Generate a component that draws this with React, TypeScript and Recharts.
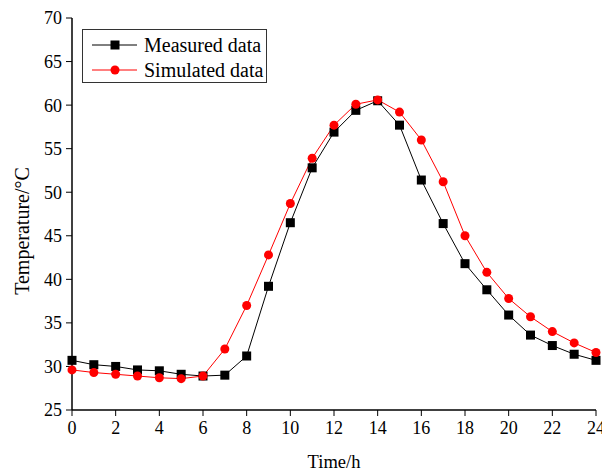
import { LineChart, Line, XAxis, YAxis } from "recharts";

const hours = [0, 1, 2, 3, 4, 5, 6, 7, 8, 9, 10, 11, 12, 13, 14, 15, 16, 17, 18, 19, 20, 21, 22, 23, 24];
const measured = [30.7, 30.2, 30.0, 29.6, 29.5, 29.1, 28.9, 29.0, 31.2, 39.2, 46.5, 52.8, 56.9, 59.4, 60.5, 57.7, 51.4, 46.4, 41.8, 38.8, 35.9, 33.6, 32.4, 31.4, 30.7];
const simulated = [29.6, 29.3, 29.1, 28.9, 28.7, 28.6, 28.9, 32.0, 37.0, 42.8, 48.7, 53.9, 57.7, 60.1, 60.6, 59.2, 56.0, 51.2, 45.0, 40.8, 37.8, 35.7, 34.0, 32.7, 31.6];

const xTicks = [0, 2, 4, 6, 8, 10, 12, 14, 16, 18, 20, 22, 24];
const yTicks = [25, 30, 35, 40, 45, 50, 55, 60, 65, 70];
const xMinor = hours;
const yMinor = [25, 27.5, 30, 32.5, 35, 37.5, 40, 42.5, 45, 47.5, 50, 52.5, 55, 57.5, 60, 62.5, 65, 67.5, 70];

const data = hours.map((h, i) => ({ h, measured: measured[i], simulated: simulated[i] }));

const font = "'Liberation Serif', 'Times New Roman', serif";
const tickStyle = { fontFamily: font, fontSize: 18, fill: "#000" };

const Square = (props: any) => {
  const { cx, cy, index } = props;
  if (cx == null || cy == null) return <g key={index} />;
  return <rect key={index} x={cx - 4.5} y={cy - 4.5} width={9} height={9} fill="#000" />;
};

const LegendBox = () => (
  <svg width={186} height={55} style={{ display: "block" }}>
    <rect x={0.5} y={0.5} width={184} height={53} fill="#fff" stroke="#333" />
    <line x1={10} x2={55} y1={16} y2={16} stroke="#000" />
    <rect x={28.5} y={11.5} width={9} height={9} fill="#000" />
    <text x={62} y={22.5} style={{ fontFamily: font, fontSize: 20 }} fill="#000">Measured data</text>
    <line x1={10} x2={55} y1={41} y2={41} stroke="#ff0000" />
    <circle cx={33} cy={41} r={4.5} fill="#ff0000" />
    <text x={62} y={47.5} style={{ fontFamily: font, fontSize: 20 }} fill="#000">Simulated data</text>
  </svg>
);

export default function App() {
  return (
    <div style={{ position: "absolute", left: 0, top: 0, width: 602, height: 472, background: "#fff" }}>
      <LineChart width={602} height={472} data={data} margin={{ top: 18, right: 6, left: 0, bottom: 0 }}>
        <XAxis
          xAxisId="minor"
          dataKey="h"
          type="number"
          domain={[0, 24]}
          ticks={xMinor}
          height={0}
          tickSize={3}
          tickFormatter={() => ""}
          axisLine={false}
          tickLine={{ stroke: "#000" }}
        />
        <XAxis
          xAxisId="main"
          dataKey="h"
          type="number"
          domain={[0, 24]}
          ticks={xTicks}
          height={62}
          tickSize={6}
          tickMargin={5}
          tick={tickStyle}
          axisLine={{ stroke: "#000", strokeWidth: 1.5 }}
          tickLine={{ stroke: "#000" }}
          interval={0}
          label={{ value: "Time/h", position: "insideBottom", offset: 4, style: { fontFamily: font, fontSize: 18.5, fill: "#000" } }}
        />
        <XAxis
          xAxisId="top"
          orientation="top"
          dataKey="h"
          type="number"
          domain={[0, 24]}
          height={0}
          tick={false}
          tickLine={false}
          axisLine={{ stroke: "#000", strokeWidth: 1.5 }}
        />
        <YAxis
          yAxisId="minor"
          type="number"
          domain={[25, 70]}
          ticks={yMinor}
          width={0}
          tickSize={3}
          tickFormatter={() => ""}
          axisLine={false}
          tickLine={{ stroke: "#000" }}
        />
        <YAxis
          yAxisId="main"
          type="number"
          domain={[25, 70]}
          ticks={yTicks}
          width={72}
          tickSize={6}
          tickMargin={4}
          tick={tickStyle}
          interval={0}
          axisLine={{ stroke: "#000", strokeWidth: 1.5 }}
          tickLine={{ stroke: "#000" }}
          label={{ value: "Temperature/°C", angle: -90, position: "insideLeft", offset: 22, dy: 17, style: { fontFamily: font, fontSize: 20, fill: "#000", textAnchor: "middle" } }}
        />
        <YAxis
          yAxisId="right"
          orientation="right"
          type="number"
          domain={[25, 70]}
          width={0}
          tick={false}
          tickLine={false}
          axisLine={{ stroke: "#000", strokeWidth: 1.5 }}
        />
        <Line
          xAxisId="main"
          yAxisId="main"
          dataKey="measured"
          stroke="#000"
          strokeWidth={1}
          dot={Square}
          isAnimationActive={false}
        />
        <Line
          xAxisId="main"
          yAxisId="main"
          dataKey="simulated"
          stroke="#ff0000"
          strokeWidth={1}
          dot={{ r: 4.5, fill: "#ff0000", stroke: "none" }}
          isAnimationActive={false}
        />
      </LineChart>
      <div style={{ position: "absolute", left: 82, top: 29 }}>
        <LegendBox />
      </div>
    </div>
  );
}
